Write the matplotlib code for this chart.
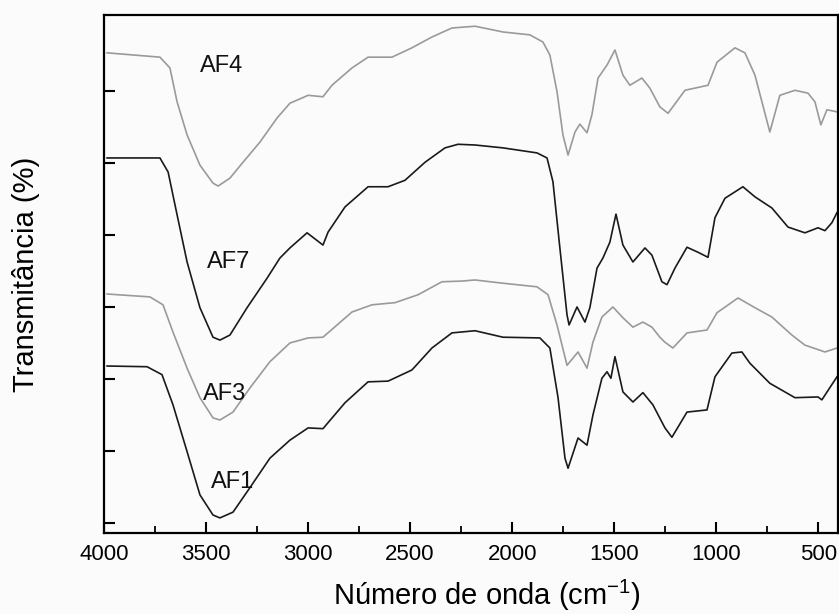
import matplotlib
matplotlib.use("Agg")
import matplotlib.pyplot as plt

plt.rcParams['font.family'] = ['Liberation Sans', 'DejaVu Sans']
plt.rcParams['mathtext.default'] = 'regular'

# numero de onda (cm-1) e transmitancia (unidades arbitrarias, curvas deslocadas)
wn_af4 = [3985, 3726, 3677, 3642, 3593, 3530, 3466, 3441, 3383, 3319, 3236, 3152, 3089,
          3000, 2927, 2883, 2785, 2706, 2589, 2491, 2393, 2295, 2182, 2045, 1913, 1849,
          1815, 1780, 1751, 1726, 1692, 1668, 1633, 1609, 1579, 1535, 1496, 1457, 1423,
          1364, 1325, 1276, 1236, 1153, 1040, 996, 908, 859, 810, 737, 688, 614, 550,
          516, 487, 457, 408]
t_af4 = [65.3, 64.7, 63.2, 58.5, 53.9, 49.7, 47.2, 46.8, 47.9, 50.1, 52.9, 56.25, 58.3,
         59.4, 59.2, 60.8, 63.2, 64.7, 64.7, 66.0, 67.5, 68.75, 69.0, 68.2, 67.8, 66.8,
         65.0, 59.9, 53.9, 51.1, 54.3, 55.4, 54.2, 56.7, 61.8, 63.6, 65.7, 62.2, 60.8,
         61.8, 60.4, 57.8, 56.9, 60.1, 60.8, 64.0, 66.0, 65.3, 62.2, 54.3, 59.4, 60.1, 59.7,
         58.5, 55.3, 57.4, 57.1]

wn_af7 = [3985, 3726, 3686, 3642, 3593, 3530, 3466, 3432, 3383, 3299, 3201, 3138, 3089,
          3005, 2927, 2902, 2819, 2706, 2608, 2525, 2427, 2329, 2265, 2182, 2045, 1878,
          1829, 1800, 1766, 1731, 1721, 1682, 1643, 1619, 1584, 1555, 1521, 1491, 1457,
          1408, 1349, 1315, 1266, 1241, 1202, 1143, 1089, 1040, 1006, 957, 869, 810, 727,
          648, 565, 501, 467, 433, 408]
t_af7 = [50.7, 50.7, 48.75, 42.8, 36.25, 29.9, 25.8, 25.4, 26.1, 29.9, 34.0, 36.8, 38.2,
         40.3, 38.6, 40.4, 43.9, 46.7, 46.7, 47.6, 50.1, 52.1, 52.6, 52.5, 52.1, 51.4,
         50.7, 47.4, 38.2, 28.9, 27.5, 30.0, 27.9, 29.9, 35.4, 36.8, 39.0, 42.9, 38.6,
         36.25, 38.2, 37.2, 33.5, 33.1, 35.4, 38.3, 37.6, 36.9, 42.4, 45.1, 46.7, 45.3,
         43.75, 41.1, 40.3, 41.0, 40.6, 41.7, 43.1]

wn_af3 = [3985, 3775, 3711, 3662, 3593, 3530, 3466, 3432, 3368, 3285, 3187, 3089, 3000,
          2927, 2785, 2687, 2574, 2461, 2344, 2246, 2182, 2045, 1878, 1824, 1780, 1731,
          1677, 1633, 1604, 1560, 1506, 1457, 1408, 1359, 1315, 1276, 1251, 1212, 1143,
          1045, 996, 893, 810, 727, 629, 565, 467, 408]
t_af3 = [31.8, 31.4, 30.3, 26.5, 21.5, 17.4, 14.6, 14.3, 15.4, 18.75, 22.4, 25.0, 25.7,
         25.8, 29.3, 30.3, 30.6, 31.7, 33.5, 33.6, 33.75, 33.3, 32.8, 31.7, 27.5, 21.9,
         23.75, 21.5, 25.1, 28.6, 30.0, 28.5, 27.2, 27.9, 27.2, 25.8, 25.1, 24.3, 26.4,
         26.8, 29.2, 31.25, 29.9, 28.6, 26.1, 24.7, 23.75, 24.3]

wn_af1 = [3985, 3789, 3716, 3662, 3593, 3530, 3466, 3432, 3368, 3285, 3187, 3089, 3000,
          2927, 2819, 2706, 2608, 2491, 2393, 2295, 2182, 2045, 1864, 1815, 1775, 1741,
          1726, 1677, 1633, 1604, 1560, 1535, 1516, 1496, 1457, 1408, 1359, 1310, 1251,
          1217, 1143, 1045, 1006, 923, 874, 835, 737, 614, 501, 482, 408]
t_af1 = [21.8, 21.7, 20.6, 16.4, 9.9, 3.9, 1.1, 0.7, 1.5, 4.9, 9.0, 11.5, 13.2,
         13.1, 16.7, 19.6, 19.7, 21.25, 24.3, 26.4, 26.7, 25.8, 25.7, 24.3, 17.4, 9.0,
         7.6, 11.8, 10.8, 15.0, 20.1, 21.0, 20.1, 23.1, 18.2, 16.8, 18.1, 16.4, 13.2,
         11.9, 15.4, 15.7, 20.3, 23.6, 23.75, 22.2, 19.4, 17.4, 17.5, 17.1, 20.3]

labels = ['AF4', 'AF7', 'AF3', 'AF1']
label_pos = [(3422, 63.5), (3387, 36.25), (3407, 17.9), (3368, 5.7)]

fig = plt.figure(figsize=(8.39, 6.14), dpi=100, facecolor='#fbfbfb')
ax = fig.add_axes([0.124, 0.132, 0.8748, 0.8436], facecolor='#fbfbfb')

ax.plot(wn_af4, t_af4, color='#9a9a9a', lw=1.2)
ax.plot(wn_af7, t_af7, color='#1a1a1a', lw=1.2)
ax.plot(wn_af3, t_af3, color='#9a9a9a', lw=1.2)
ax.plot(wn_af1, t_af1, color='#1a1a1a', lw=1.2)

for lab, (x, y) in zip(labels, label_pos):
    ax.text(x, y, lab, fontsize=17, ha='center', va='center', color='#111111')

ax.set_xlim(4000, 403)
ax.set_ylim(-1.39, 70.56)
ax.set_xticks([4000, 3500, 3000, 2500, 2000, 1500, 1000, 500])
ax.set_xticks(range(3750, 400, -500), minor=True)
ax.set_yticks([0, 10, 20, 30, 40, 50, 60])
ax.set_yticklabels([])

ax.tick_params(axis='both', which='major', direction='in', length=8, width=1.5,
               top=False, right=False, labelsize=16, pad=8)
ax.tick_params(axis='x', which='minor', direction='in', length=5, width=1.3, top=False)
for s in ax.spines.values():
    s.set_linewidth(1.6)

ax.set_xlabel('Número de onda (cm$^{-1}$)', fontsize=21, labelpad=9)
ax.xaxis.label.set_x(0.522)
ax.set_ylabel('Transmitância (%)', fontsize=21, labelpad=38)

fig.savefig('out.png', dpi=100, facecolor=fig.get_facecolor())
